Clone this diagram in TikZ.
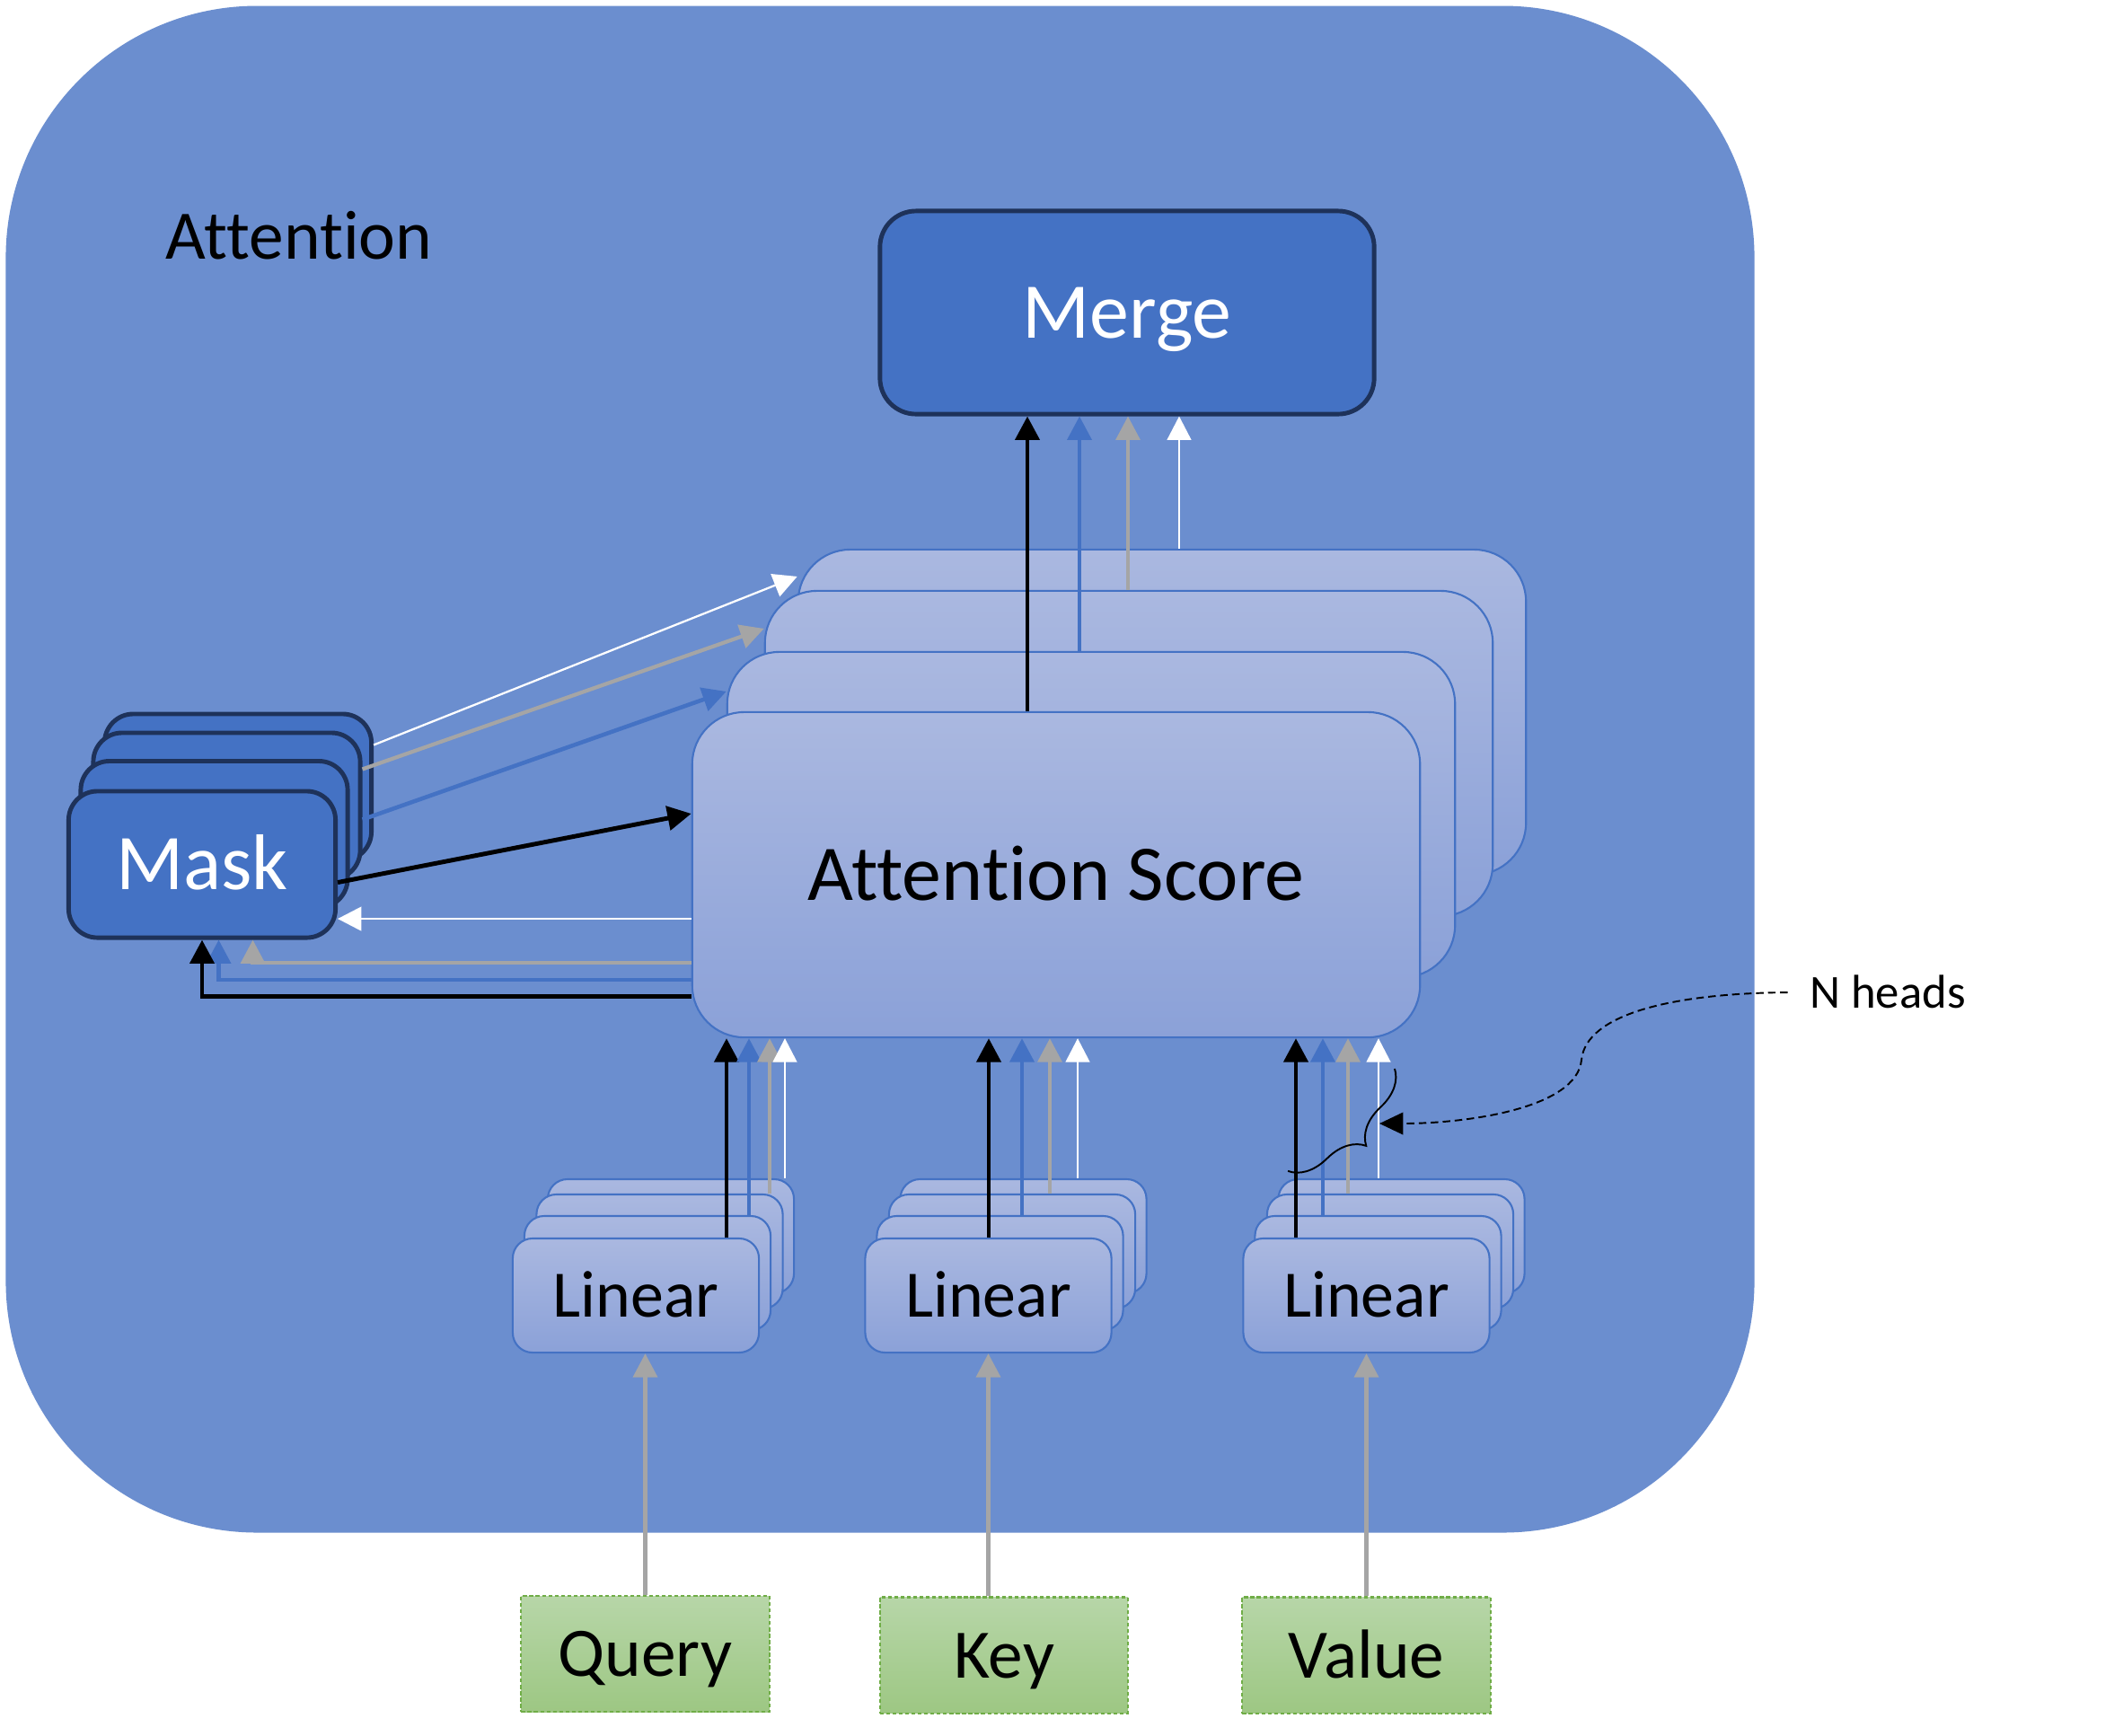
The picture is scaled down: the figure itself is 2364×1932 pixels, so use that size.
\documentclass[tikz,border=0pt]{standalone}
\usepackage{fontspec}
\setmainfont{Carlito}[Ligatures={NoCommon}]
\usetikzlibrary{arrows.meta,decorations.pathreplacing}
\definecolor{bgblue}{RGB}{107,142,207}
\definecolor{accent}{RGB}{68,114,196}
\definecolor{navy}{RGB}{30,50,90}
\definecolor{lt}{RGB}{170,184,224}
\definecolor{lb}{RGB}{139,161,216}
\definecolor{arrgray}{RGB}{165,165,165}
\definecolor{gtop}{RGB}{183,214,168}
\definecolor{gbot}{RGB}{157,199,131}
\definecolor{gline}{RGB}{112,173,71}
\tikzset{
  tipT/.style={-{Triangle[length=7.5pt,width=7.6pt]}},
  akk/.style={tipT, line width=1.4pt, draw=black},
  abl/.style={tipT, line width=1.3pt, draw=accent},
  agr/.style={tipT, line width=1.2pt, draw=arrgray},
  awh/.style={tipT, line width=0.65pt, draw=white},
  bgbox/.style={fill=bgblue, rounded corners=2.8cm, minimum width=19.46cm, minimum height=16.99cm, inner sep=0pt},
  lightbox/.style={draw=accent, line width=0.6pt, top color=lt, bottom color=lb, inner sep=0pt},
  asbox/.style={lightbox, rounded corners=0.58cm, minimum width=8.1cm, minimum height=3.62cm},
  linbox/.style={lightbox, rounded corners=0.22cm, minimum width=2.74cm, minimum height=1.27cm},
  darkbox/.style={draw=navy, line width=1.4pt, fill=accent, text=white, inner sep=0pt},
  maskbox/.style={darkbox, rounded corners=0.32cm, minimum width=2.97cm, minimum height=1.63cm},
  mergebox/.style={darkbox, rounded corners=0.4cm, minimum width=5.5cm, minimum height=2.26cm},
  inbox/.style={draw=gline, line width=0.6pt, dash pattern=on 1.2pt off 0.8pt, top color=gtop, bottom color=gbot, inner sep=0pt, minimum width=2.76cm, minimum height=1.29cm},
  bigtxt/.style={font=\fontsize{25}{30}\selectfont, text height=16.1pt, text depth=0pt},
  lintxt/.style={font=\fontsize{21}{25}\selectfont, text height=13.5pt, text depth=0pt},
  midtxt/.style={font=\fontsize{22}{26}\selectfont, text height=14.2pt, text depth=0pt},
  smalltxt/.style={font=\fontsize{15}{18}\selectfont, text height=9.7pt, text depth=0pt, inner xsep=0.24cm},
  dashcurve/.style={line width=0.55pt, dash pattern=on 2.4pt off 1.4pt, -{Triangle[length=7.5pt,width=7pt]}},
  bracestyle/.style={line width=0.55pt, decorate, decoration={brace, amplitude=0.4cm}}
}
\begin{document}
\begin{tikzpicture}[x=0.01cm, y=-0.01cm]
\useasboundingbox (0,0) rectangle (2364,1932);
\fill[white] (0,0) rectangle (2364,1932);
\node[bgbox] (attn) at (980,856.5) {};
\node[midtxt] (lbl) at (333,264) {Attention};

% Merge
\node[mergebox, bigtxt] (Merge) at (1255,348) {Merge};

% Attention score stack
\node[asbox] (AS4) at (1294,793) {};
\node[asbox] (AS3) at (1257,839) {};
\node[asbox] (AS2) at (1215,907) {};
\node[asbox, bigtxt] (AS1) at (1176,974) {Attention Score};

% Mask stack
\node[maskbox] (M4) at (265,876.5) {};
\node[maskbox] (M3) at (252.5,897.5) {};
\node[maskbox] (M2) at (238.5,929) {};
\node[maskbox, bigtxt] (M1) at (225,962.5) {Mask};

% Linear stacks
\node[linbox] (L1d) at (747,1376.5) {};
\node[linbox] (L1c) at (734.5,1393.5) {};
\node[linbox] (L1b) at (721,1417.5) {};
\node[linbox, lintxt] (L1a) at (708,1442.5) {Linear};
\node[linbox] (L2d) at (1139.5,1376.5) {};
\node[linbox] (L2c) at (1127,1393.5) {};
\node[linbox] (L2b) at (1113.5,1417.5) {};
\node[linbox, lintxt] (L2a) at (1100.5,1442.5) {Linear};
\node[linbox] (L3d) at (1560.5,1376.5) {};
\node[linbox] (L3c) at (1548,1393.5) {};
\node[linbox] (L3b) at (1534.5,1417.5) {};
\node[linbox, lintxt] (L3a) at (1521.5,1442.5) {Linear};

% Inputs
\node[inbox, midtxt] (Q) at (718.5,1841.5) {Query};
\node[inbox, midtxt] (K) at (1118,1843) {Key};
\node[inbox, midtxt] (V) at (1521.5,1843) {Value};

% x positions of parallel arrows
\coordinate (x1k) at (809,0);  \coordinate (x1b) at (834,0);  \coordinate (x1g) at (857,0);  \coordinate (x1w) at (874,0);
\coordinate (x2k) at (1101,0); \coordinate (x2b) at (1138,0); \coordinate (x2g) at (1169,0); \coordinate (x2w) at (1200,0);
\coordinate (x3k) at (1443,0); \coordinate (x3b) at (1473,0); \coordinate (x3g) at (1501,0); \coordinate (x3w) at (1535,0);
\coordinate (mk) at (1144,0); \coordinate (mb) at (1202,0); \coordinate (mg) at (1256,0); \coordinate (mw) at (1313,0);

% Linear -> Attention Score
\draw[akk] (L1a.north -| x1k) -- (AS1.south -| x1k);
\draw[abl] (L1b.north -| x1b) -- (AS1.south -| x1b);
\draw[agr] (L1c.north -| x1g) -- (AS1.south -| x1g);
\draw[awh] (L1d.north -| x1w) -- (AS1.south -| x1w);
\draw[akk] (L2a.north -| x2k) -- (AS1.south -| x2k);
\draw[abl] (L2b.north -| x2b) -- (AS1.south -| x2b);
\draw[agr] (L2c.north -| x2g) -- (AS1.south -| x2g);
\draw[awh] (L2d.north -| x2w) -- (AS1.south -| x2w);
\draw[akk] (L3a.north -| x3k) -- (AS1.south -| x3k);
\draw[abl] (L3b.north -| x3b) -- (AS1.south -| x3b);
\draw[agr] (L3c.north -| x3g) -- (AS1.south -| x3g);
\draw[awh] (L3d.north -| x3w) -- (AS1.south -| x3w);

% Attention Score -> Merge
\draw[akk] (AS1.north -| mk) -- (Merge.south -| mk);
\draw[abl] (AS2.north -| mb) -- (Merge.south -| mb);
\draw[agr] (AS3.north -| mg) -- (Merge.south -| mg);
\draw[awh] (AS4.north -| mw) -- (Merge.south -| mw);

% Mask -> Attention Score
\draw[akk] ([yshift=-0.2cm]M1.east) -- ([yshift=0.68cm]AS1.west);
\draw[abl] ([yshift=-0.15cm]M3.east) -- ([yshift=1.37cm]AS2.west);
\draw[agr] ([yshift=0.41cm]M3.east) -- ([yshift=1.39cm]AS3.west);
\draw[awh] ([yshift=0.47cm]M4.east) -- ([yshift=1.51cm]AS4.west);

% Attention Score -> Mask
\coordinate (iw) at ([yshift=-0.49cm]AS1.west);
\coordinate (ig) at ([yshift=-0.98cm]AS1.west);
\coordinate (ib) at ([yshift=-1.17cm]AS1.west);
\coordinate (ik) at ([yshift=-1.35cm]AS1.west);
\draw[awh] (iw) -- (iw -| M1.east);
\draw[agr] (ig) -| ([xshift=0.565cm]M1.south);
\draw[abl] (ib) -| ([xshift=0.185cm]M1.south);
\draw[akk] (ik) -| (M1.south);

% Inputs -> Linear
\draw[agr] (Q.north) -- (Q.north |- L1a.south);
\draw[agr] (K.north -| L2a.south) -- (L2a.south);
\draw[agr] (V.north) -- (V.north |- L3a.south);

% N heads annotation
\node[smalltxt] (nh) at (2102,1105) {N heads};
\coordinate (btip) at (1536,1251);
\draw[dashcurve] (nh.west) .. controls (1860,1106) and (1766,1130) .. (1761,1180) .. controls (1756,1235) and (1630,1251) .. (btip);
\coordinate (br1) at (1553,1190);
\coordinate (br2) at (1434,1304);
\draw[bracestyle] (br1) -- (br2);
\end{tikzpicture}
\end{document}
